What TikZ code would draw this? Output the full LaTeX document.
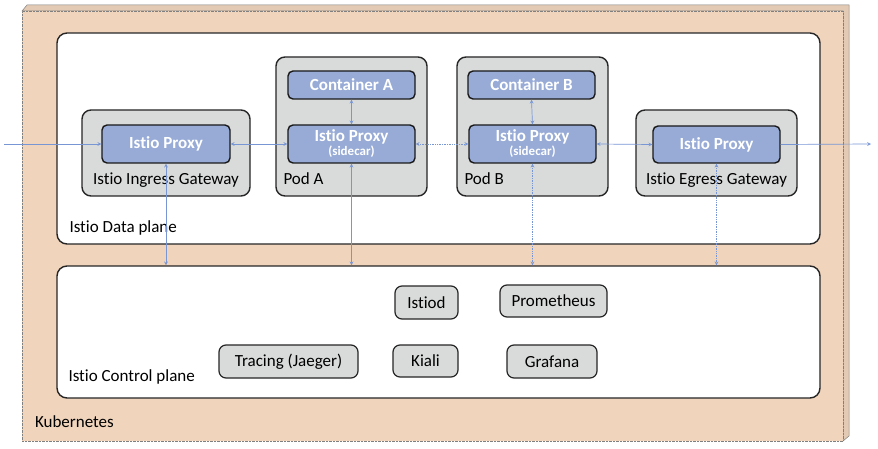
\documentclass[tikz,border=0pt]{standalone}
\usepackage{fontspec}
\setmainfont{Carlito}[Ligatures=CommonOff]
\usetikzlibrary{arrows,positioning}

\definecolor{kubepeach}{RGB}{240,212,187}
\definecolor{boxgray}{RGB}{217,218,218}
\definecolor{proxyblue}{RGB}{151,171,214}
\definecolor{linkblue}{RGB}{120,150,212}

\tikzset{
	plane/.style={draw=black!85,fill=white,rectangle,rounded corners=10pt,line width=1.4pt,minimum width=763pt,inner sep=0pt},
	grey_box/.style={draw=black!85,fill=boxgray,rectangle,rounded corners=9pt,line width=1.4pt,inner sep=0pt},
	proxy/.style={draw=black!90,fill=proxyblue,rectangle,rounded corners=5pt,line width=1.4pt,minimum width=127pt,minimum height=38pt,inner sep=0pt,text=white,font=\bfseries\fontsize{17}{18}\selectfont,align=center},
	cp_box/.style={draw=black!85,fill=boxgray,rectangle,rounded corners=7pt,line width=1.2pt,minimum height=33pt,inner sep=0pt,font=\fontsize{17}{20}\selectfont},
	lbl/.style={inner sep=0pt,font=\fontsize{17}{20}\selectfont},
	link/.style={color=linkblue,line width=0.7pt},
}

\begin{document}
\begin{tikzpicture}[x=1pt,y=-1pt,>=stealth]

\useasboundingbox (0,0) rectangle (878,449);

\filldraw[fill=kubepeach!88!gray,draw=gray,line width=0.5pt] (22,11) -- (27,5) -- (849,5) -- (849,436) -- (843,441) -- (843,11) -- cycle;

\node[draw=gray,densely dotted,fill=kubepeach,rectangle,minimum width=821pt,minimum height=430pt,inner sep=0pt] (kubernetes) at (432.5,226) {};

\node[lbl,above right=14pt and 13pt of kubernetes.south west,anchor=base west] (kube_lbl) {Kubernetes};


\node[plane,minimum height=211pt] (data_plane) at (438.5,138.5) {};

\node[lbl,above right=12pt and 13pt of data_plane.south west,anchor=base west] (data_lbl) {Istio Data plane};


\node[plane,minimum height=132pt] (control_plane) at (438.5,332) {};

\node[lbl,above right=17pt and 12pt of control_plane.south west,anchor=base west] (control_lbl) {Istio Control plane};


\node[grey_box,minimum width=168pt,minimum height=86pt] (ingress_gw) at (166,153) {};

\node[lbl,above=12pt of ingress_gw.south,anchor=base] (ingress_lbl) {Istio Ingress Gateway};

\node[proxy,minimum width=128pt] (ingress_proxy) at (166,144) {Istio Proxy};


\node[grey_box,minimum width=151pt,minimum height=139pt] (pod_a) at (351.5,126.5) {};

\node[lbl,above right=12pt and 8pt of pod_a.south west,anchor=base west] (pod_a_lbl) {Pod A};

\node[proxy,minimum height=28pt] (cont_a) at (351.5,85) {Container A};

\node[proxy] (proxy_a) at (351.5,144) {Istio Proxy\\[-4pt]{\fontsize{13}{14}\selectfont(sidecar)}};


\node[grey_box,minimum width=151pt,minimum height=139pt] (pod_b) at (532.5,126.5) {};

\node[lbl,above right=12pt and 8pt of pod_b.south west,anchor=base west] (pod_b_lbl) {Pod B};

\node[proxy,minimum height=28pt] (cont_b) at (531.5,85) {Container B};

\node[proxy] (proxy_b) at (532.5,144) {Istio Proxy\\[-4pt]{\fontsize{13}{14}\selectfont(sidecar)}};


\node[grey_box,minimum width=161pt,minimum height=86pt] (egress_gw) at (716.5,153) {};

\node[lbl,above=12pt of egress_gw.south,anchor=base] (egress_lbl) {Istio Egress Gateway};

\node[proxy,minimum height=37pt] (egress_proxy) at (716.5,144.5) {Istio Proxy};


\node[cp_box,minimum width=63pt] (istiod) at (426.5,302.5) {Istiod};

\node[cp_box,minimum width=107pt,minimum height=32pt] (prometheus) at (553.5,301) {Prometheus};

\node[cp_box,minimum width=139pt] (tracing) at (288.5,361.5) {Tracing (Jaeger)};

\node[cp_box,minimum width=65pt,minimum height=32pt] (kiali) at (425.5,361) {Kiali};

\node[cp_box,minimum width=90pt] (grafana) at (552,361.5) {Grafana};


\coordinate (inlet) at (4,144);

\coordinate (outlet) at (871,144);


\path[link,->] (inlet) edge (ingress_proxy.west);

\path[link,<->] (ingress_proxy.east) edge (proxy_a.west);

\path[link,<->,densely dotted] (proxy_a.east) edge (proxy_b.west);

\path[link,<->] (proxy_b.east) edge (egress_proxy.west);

\path[link,->] (egress_proxy.east) edge (outlet);


\path[link,<->] (cont_a.south) edge (proxy_a.north);

\path[link,<->] (cont_b.south) edge (proxy_b.north);


\path[link,<->] (ingress_proxy.south) edge (ingress_proxy.south |- control_plane.north);

\path[link,<->] (proxy_a.south) edge (proxy_a.south |- control_plane.north);

\path[link,<->,densely dotted] (proxy_b.south) edge (proxy_b.south |- control_plane.north);

\path[link,<->,densely dotted] (egress_proxy.south) edge (egress_proxy.south |- control_plane.north);


\end{tikzpicture}
\end{document}
